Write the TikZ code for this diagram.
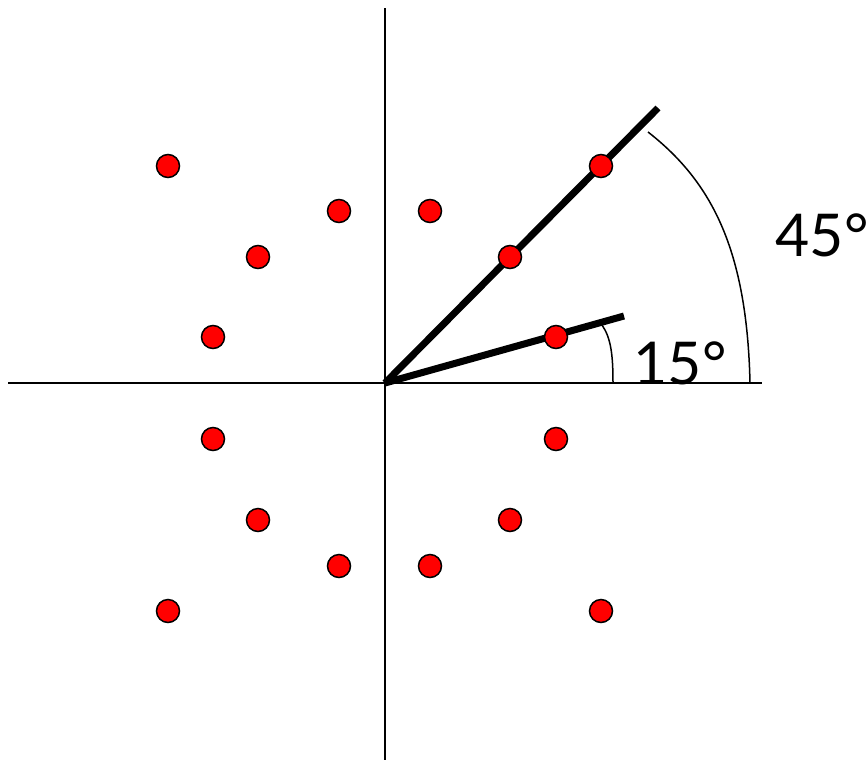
\documentclass[tikz,border=0pt]{standalone}
\usepackage{fontspec}
\setmainfont{Lato}
\begin{document}
\begin{tikzpicture}[x=1pt,y=-1pt,
  dot/.style={circle,fill=red,draw=black,line width=1.5pt,minimum size=23pt,inner sep=0pt},
  axis/.style={line width=2pt},
  ray/.style={line width=7pt},
  arcline/.style={line width=1.5pt},
  lbl/.style={font=\fontsize{59}{60}\selectfont,inner sep=0pt}]
\useasboundingbox (0,0) rectangle (867,761);
\coordinate (O) at (385,383);
\coordinate (xl) at (8,383);
\coordinate (xr) at (762,383);
\coordinate (yt) at (385,8);
\coordinate (yb) at (385,760);
\draw[axis] (xl) -- (xr);
\draw[axis] (yt) -- (yb);
\coordinate (r45) at (658,108);
\coordinate (r15) at (624,316);
\draw[ray] (O) -- (r45);
\draw[ray] (O) -- (r15);
\coordinate (a45s) at (648,132);
\coordinate (a45e) at (750,383);
\draw[arcline] (a45s) .. controls (712,182) and (747,250) .. (a45e);
\coordinate (a15s) at (602,325);
\coordinate (a15e) at (613,383);
\draw[arcline] (a15s) .. controls (611,338) and (613,355) .. (a15e);
\node[lbl] (l45) at (822,235) {45°};
\node[lbl] (l15) at (680,363) {15°};
\foreach \n/\p in {a/{168,166},b/{339,211},c/{258,257},d/{213,337},
  e/{430,211},f/{601,166},g/{510,257},h/{556,337},
  i/{213,439},j/{258,520},k/{339,566},l/{168,611},
  m/{556,439},n/{510,520},o/{430,566},p/{601,611}}
  \node[dot] (\n) at (\p) {};
\end{tikzpicture}
\end{document}
